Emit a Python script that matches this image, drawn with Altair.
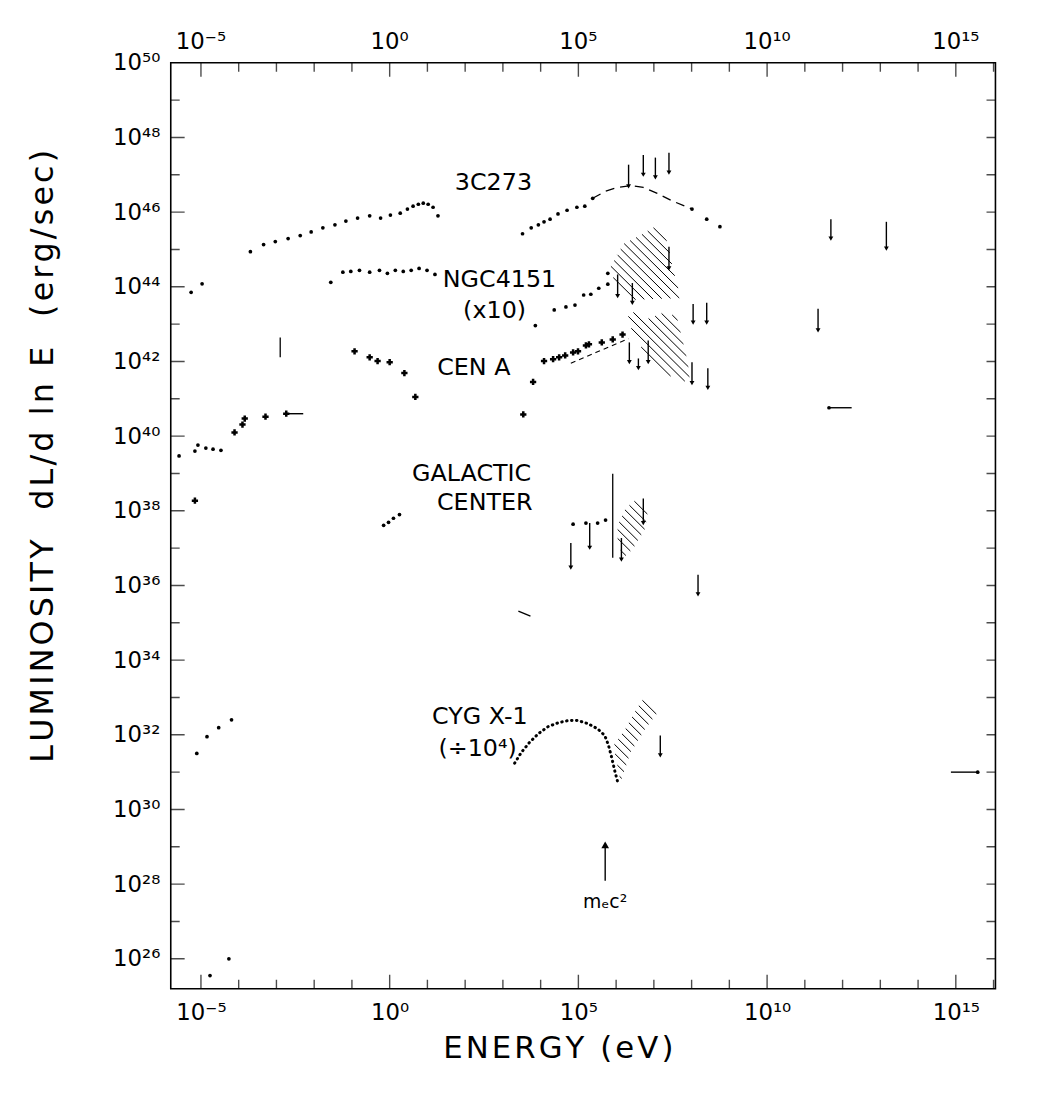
import altair as alt
import pandas as pd

# ---------------- axis ranges (log10 units) ----------------
X_MIN, X_MAX = -5.8, 16.05      # log10 E (eV)
Y_MIN, Y_MAX = 25.2, 50.0       # log10 dL/dlnE (erg/s)
FONT = "DejaVu Sans"

X_LABELS = [-5, 0, 5, 10, 15]
Y_LABELS = [26, 28, 30, 32, 34, 36, 38, 40, 42, 44, 46, 48, 50]
X_TICKS = list(range(-5, 17))
Y_TICKS = list(range(26, 50))

# ---------------- 3C273 ----------------
q_radio_x = [-5.26, -4.97]
q_radio_y = [43.85, 44.08]
q_ir_x = [-3.69, -3.34, -3.03, -2.69, -2.37, -2.08, -1.77, -1.45, -1.16, -0.85, -0.53,
          -0.24, 0.02, 0.28, 0.47, 0.62, 0.76, 0.89, 1.02, 1.15, 1.28]
q_ir_y = [44.94, 45.13, 45.21, 45.29, 45.37, 45.47, 45.58, 45.66, 45.76, 45.84, 45.90,
          45.84, 45.92, 45.97, 46.08, 46.16, 46.21, 46.24, 46.21, 46.13, 45.90]
q_xr_x = [3.52, 3.75, 3.94, 4.09, 4.25, 4.46, 4.70, 4.96, 5.17, 5.38]
q_xr_y = [45.42, 45.58, 45.66, 45.74, 45.81, 45.95, 46.05, 46.13, 46.16, 46.37]
q_model_x = [5.38, 5.72, 6.04, 6.38, 6.72, 7.09, 7.51, 8.01]
q_model_y = [46.37, 46.56, 46.66, 46.71, 46.66, 46.50, 46.29, 46.08]
q_gam_x = [8.01, 8.40, 8.75]
q_gam_y = [46.08, 45.81, 45.61]
q_ul_x = [6.33, 6.72, 7.04, 7.40, 11.69, 13.16]
q_ul_top = [47.27, 47.53, 47.46, 47.59, 45.81, 45.74]
q_ul_bot = [46.69, 47.00, 46.93, 47.06, 45.29, 45.02]

# ---------------- NGC4151 (x10) ----------------
n_ir_x = [-1.56, -1.24, -1.03, -0.80, -0.53, -0.27, -0.06, 0.15, 0.36, 0.57, 0.78, 0.99, 1.20]
n_ir_y = [44.12, 44.39, 44.41, 44.44, 44.39, 44.44, 44.36, 44.44, 44.41, 44.44, 44.49, 44.44, 44.33]
n_xr_x = [3.86, 4.36, 4.67, 4.91, 5.14, 5.33, 5.54, 5.78, 5.78]
n_xr_y = [42.96, 43.38, 43.46, 43.51, 43.78, 43.80, 43.96, 44.07, 44.36]
n_poly_x = [5.83, 6.20, 6.64, 7.04, 7.25, 7.38, 7.46, 7.59, 7.72, 6.91, 6.46, 6.14, 5.93]
n_poly_y = [44.49, 45.15, 45.38, 45.61, 45.45, 45.13, 44.68, 44.15, 43.70, 43.67, 43.65, 43.91, 44.23]
n_ul_x = [6.04, 6.43, 7.40, 8.04, 8.40, 11.35]
n_ul_top = [44.33, 44.10, 45.07, 43.54, 43.57, 43.41]
n_ul_bot = [43.75, 43.57, 44.49, 43.04, 43.04, 42.83]

# ---------------- CEN A ----------------
a_radio_x = [-5.58, -5.16, -5.08, -4.87, -4.68, -4.47]
a_radio_y = [39.47, 39.60, 39.76, 39.68, 39.65, 39.62]
a_cross_x = [-5.16, -4.11, -3.90, -3.84, -3.29, -2.74,
             -0.93, -0.53, -0.32, 0.00, 0.39, 0.68,
             3.54, 3.80, 4.09, 4.33, 4.49, 4.65, 4.86, 4.99, 5.20, 5.28, 5.62, 5.91, 6.17]
a_cross_y = [38.27, 40.10, 40.31, 40.47, 40.52, 40.60,
             42.27, 42.11, 42.01, 41.98, 41.69, 41.05,
             40.58, 41.45, 42.01, 42.06, 42.11, 42.16, 42.24, 42.27, 42.43, 42.46, 42.51, 42.59, 42.72]
a_dash_x = [4.80, 5.46, 6.33]
a_dash_y = [41.95, 42.24, 42.61]
a_poly_x = [6.30, 6.64, 6.83, 7.12, 7.35, 7.62, 7.75, 7.90, 7.96, 7.35, 6.85, 6.43]
a_poly_y = [43.30, 43.33, 43.14, 43.25, 43.35, 43.14, 42.61, 41.98, 41.42, 41.64, 42.08, 42.77]
a_ul_x = [6.35, 6.85, 6.59, 8.01, 8.43]
a_ul_top = [42.51, 42.56, 42.08, 41.98, 41.82]
a_ul_bot = [41.98, 41.98, 41.82, 41.42, 41.29]

# ---------------- Galactic Center ----------------
g_ir_x = [-0.16, -0.03, 0.10, 0.26]
g_ir_y = [37.61, 37.69, 37.80, 37.90]
g_xr_x = [4.86, 5.20, 5.51, 5.72]
g_xr_y = [37.64, 37.67, 37.67, 37.75]
g_poly_x = [6.04, 6.25, 6.51, 6.72, 6.83, 6.77, 6.46, 6.20, 6.04]
g_poly_y = [37.61, 38.06, 38.28, 38.20, 37.93, 37.53, 37.01, 36.74, 37.14]
g_ul_x = [4.80, 5.30, 6.14, 6.72, 8.17]
g_ul_top = [37.14, 37.67, 37.27, 38.33, 36.29]
g_ul_bot = [36.48, 37.01, 36.69, 37.67, 35.76]

# ---------------- CYG X-1 (/10^4) ----------------
c_radio_x = [-5.11, -4.84, -4.53, -4.19]
c_radio_y = [31.50, 31.95, 32.19, 32.40]
c_hump_x = [3.31, 3.49, 3.70, 3.94, 4.20, 4.46, 4.72, 4.99, 5.25, 5.51, 5.70, 5.80, 5.88, 5.96, 6.04]
c_hump_y = [31.24, 31.53, 31.79, 32.03, 32.22, 32.32, 32.38, 32.38, 32.30, 32.16, 31.98, 31.71, 31.40, 31.05, 30.74]
c_poly_x = [5.93, 6.25, 6.51, 6.72, 6.93, 7.09, 6.77, 6.38, 6.12]
c_poly_y = [31.71, 32.16, 32.64, 32.96, 32.90, 32.59, 32.16, 31.53, 30.74]
c_ul_x = [7.17]
c_ul_top = [31.98]
c_ul_bot = [31.45]

# other isolated points / bars
misc_dot_x = [-4.76, -4.26]
misc_dot_y = [25.55, 26.00]
errbar_x = [-2.90]
errbar_top = [42.64]
errbar_bot = [42.11]
vline_x = [5.91]
vline_top = [38.99]
vline_bot = [36.74]
hbar_x = [11.64, 14.87, 3.41, -2.74]
hbar_x2 = [12.24, 15.58, 3.73, -2.29]
hbar_y = [40.76, 31.00, 35.31, 40.60]
hbar_y2 = [40.76, 31.00, 35.18, 40.60]
hbar_pt_x = [11.64, 15.58]
hbar_pt_y = [40.76, 31.00]

MEC2 = 5.71
mec_arrow_y = [28.09, 29.05]

labels_txt = ["3C273", "NGC4151", "(x10)", "CEN A", "GALACTIC", "CENTER", "CYG X-1", "(\u00f710\u2074)"]
labels_x = [2.75, 2.91, 2.78, 2.23, 2.17, 2.52, 2.39, 2.33]
labels_y = [46.77, 44.17, 43.35, 41.82, 38.99, 38.20, 32.48, 31.63]

# ---------------- helpers ----------------
SUP = str.maketrans("-0123456789", "\u207b\u2070\u00b9\u00b2\u00b3\u2074\u2075\u2076\u2077\u2078\u2079")


def sup_label(v):
    return "10" + str(v).translate(SUP)


def label_expr(vals):
    expr = "''"
    for v in reversed(vals):
        expr = f"datum.value == {v} ? '{sup_label(v)}' : " + expr
    return expr


def spaced(s):
    # hair spaces between letters, imitating the wide hand lettering
    return "\u200a".join(s)


xscale = alt.Scale(domain=[X_MIN, X_MAX], nice=False, zero=False)
yscale = alt.Scale(domain=[Y_MIN, Y_MAX], nice=False, zero=False)
xaxis = alt.Axis(values=X_LABELS, labelExpr=label_expr(X_LABELS), ticks=False, domain=False,
                 grid=False, labelFont=FONT, labelFontSize=23, labelPadding=13, labelFlush=False,
                 labelOverlap=False, labelColor="black", title=spaced("ENERGY (eV)"), titleFont=FONT,
                 titleFontSize=31, titleFontWeight="normal", titleColor="black",
                 titleX=390, titleY=60, titleBaseline="middle")
yaxis = alt.Axis(values=Y_LABELS, labelExpr=label_expr(Y_LABELS), ticks=False, domain=False,
                 grid=False, labelFont=FONT, labelFontSize=23, labelPadding=11, labelFlush=False,
                 labelOverlap=False, labelColor="black", labelBaseline="middle",
                 title=spaced("LUMINOSITY  dL/d ln E  (erg/sec)"), titleFont=FONT, titleFontSize=32,
                 titleFontWeight="normal", titleColor="black", titleX=-129, titleY=396,
                 titleBaseline="middle", titleAngle=270)


def X(f="x"):
    return alt.X(f, type="quantitative", scale=xscale, axis=xaxis)


def Y(f="y"):
    return alt.Y(f, type="quantitative", scale=yscale, axis=yaxis)


def XD(v):
    return alt.XDatum(v, type="quantitative", scale=xscale, axis=xaxis)


def YD(v):
    return alt.YDatum(v, type="quantitative", scale=yscale, axis=yaxis)


def df_xy(xs, ys):
    return pd.DataFrame({"x": xs, "y": ys})


def hatch(px, py, k=1.0, step=0.24):
    """hatch segments (style) clipped to polygon given by its vertices"""
    n = len(px)
    cv = [py[i] + k * px[i] for i in range(n)]
    segs = []
    c = min(cv) + step / 2
    while c < max(cv):
        xs = []
        for i in range(n):
            x1, y1 = px[i], py[i]
            x2, y2 = px[(i + 1) % n], py[(i + 1) % n]
            f1 = y1 + k * x1 - c
            f2 = y2 + k * x2 - c
            if (f1 > 0) != (f2 > 0):
                t = f1 / (f1 - f2)
                xs.append(x1 + t * (x2 - x1))
        xs.sort()
        for j in range(0, len(xs) - 1, 2):
            segs.append({"x": xs[j], "y": c - k * xs[j], "x2": xs[j + 1], "y2": c - k * xs[j + 1]})
        c += step
    return segs


# ---------------- tables ----------------
dots = pd.concat([
    df_xy(q_radio_x, q_radio_y), df_xy(q_ir_x, q_ir_y), df_xy(q_xr_x, q_xr_y), df_xy(q_gam_x, q_gam_y),
    df_xy(n_ir_x, n_ir_y), df_xy(n_xr_x, n_xr_y),
    df_xy(a_radio_x, a_radio_y),
    df_xy(g_ir_x, g_ir_y), df_xy(g_xr_x, g_xr_y),
    df_xy(c_radio_x, c_radio_y),
    df_xy(misc_dot_x, misc_dot_y), df_xy(hbar_pt_x, hbar_pt_y),
], ignore_index=True)
crosses = df_xy(a_cross_x, a_cross_y)

ul = pd.DataFrame({
    "x": q_ul_x + n_ul_x + a_ul_x + g_ul_x + c_ul_x,
    "y": q_ul_top + n_ul_top + a_ul_top + g_ul_top + c_ul_top,
    "y2": q_ul_bot + n_ul_bot + a_ul_bot + g_ul_bot + c_ul_bot,
})
bars = pd.DataFrame({"x": errbar_x + vline_x, "y": errbar_top + vline_top, "y2": errbar_bot + vline_bot})
hbars = pd.DataFrame({"x": hbar_x, "x2": hbar_x2, "y": hbar_y, "y2": hbar_y2})

hatch_rows = []
for pxs, pys in [(n_poly_x, n_poly_y), (a_poly_x, a_poly_y), (g_poly_x, g_poly_y), (c_poly_x, c_poly_y)]:
    hatch_rows += hatch(pxs, pys)
hatch_df = pd.DataFrame(hatch_rows)

labels_df = pd.DataFrame({"x": labels_x, "y": labels_y, "t": labels_txt})
toplab = pd.DataFrame({"x": X_LABELS, "t": [sup_label(v) for v in X_LABELS]})

xt = pd.DataFrame({"x": X_TICKS, "major": [v % 5 == 0 for v in X_TICKS]})
yt = pd.DataFrame({"y": Y_TICKS, "major": [v % 2 == 0 for v in Y_TICKS]})

mec = pd.DataFrame({"x": [MEC2], "y": [mec_arrow_y[0]], "y2": [mec_arrow_y[1]]})

# ---------------- layers ----------------
layers = []

# frame ticks (inward, clipped to plot area)
for major, ln in [(True, 14), (False, 9)]:
    xsub = xt[xt.major == major]
    ysub = yt[yt.major == major]
    layers.append(alt.Chart(xsub).mark_tick(orient="vertical", size=2 * ln, thickness=1.4, color="black", clip=True)
                  .encode(x=X("x"), y=YD(Y_MIN)))
    layers.append(alt.Chart(xsub).mark_tick(orient="vertical", size=2 * ln, thickness=1.4, color="black", clip=True)
                  .encode(x=X("x"), y=YD(Y_MAX)))
    layers.append(alt.Chart(ysub).mark_tick(orient="horizontal", size=2 * ln, thickness=1.4, color="black", clip=True)
                  .encode(y=Y("y"), x=XD(X_MIN)))
    layers.append(alt.Chart(ysub).mark_tick(orient="horizontal", size=2 * 9, thickness=1.4, color="black", clip=True)
                  .encode(y=Y("y"), x=XD(X_MAX)))

# top axis labels
layers.append(alt.Chart(toplab).mark_text(font=FONT, fontSize=23, baseline="bottom", dy=-9, color="black")
              .encode(x=X("x"), y=YD(Y_MAX), text="t:N"))

# hatched regions
layers.append(alt.Chart(hatch_df).mark_rule(color="black", strokeWidth=1.0, clip=True)
              .encode(x=X("x"), y=Y("y"), x2="x2:Q", y2="y2:Q"))

# curves
layers.append(alt.Chart(df_xy(q_model_x, q_model_y)).mark_line(color="black", strokeWidth=1.3, strokeDash=[9, 6])
              .encode(x=X("x"), y=Y("y")))
layers.append(alt.Chart(df_xy(a_dash_x, a_dash_y)).mark_line(color="black", strokeWidth=1.1, strokeDash=[5, 4])
              .encode(x=X("x"), y=Y("y")))
layers.append(alt.Chart(df_xy(c_hump_x, c_hump_y)).mark_line(color="black", strokeWidth=3.0, strokeDash=[0.5, 4.5],
                                                            strokeCap="round")
              .encode(x=X("x"), y=Y("y")))

# upper limit arrows
layers.append(alt.Chart(ul).mark_rule(color="black", strokeWidth=1.4).encode(x=X("x"), y=Y("y"), y2="y2:Q"))
layers.append(alt.Chart(ul).mark_point(shape="triangle-down", filled=True, size=24, color="black", opacity=1)
              .encode(x=X("x"), y=Y("y2")))
layers.append(alt.Chart(bars).mark_rule(color="black", strokeWidth=1.3).encode(x=X("x"), y=Y("y"), y2="y2:Q"))
layers.append(alt.Chart(hbars).mark_rule(color="black", strokeWidth=1.4)
              .encode(x=X("x"), x2="x2:Q", y=Y("y"), y2="y2:Q"))

# data points
layers.append(alt.Chart(dots).mark_point(shape="circle", filled=True, size=14, color="black", opacity=1)
              .encode(x=X("x"), y=Y("y")))
layers.append(alt.Chart(crosses).mark_point(shape="cross", filled=True, size=40, color="black", opacity=1)
              .encode(x=X("x"), y=Y("y")))

# m_e c^2 marker
layers.append(alt.Chart(mec).mark_rule(color="black", strokeWidth=1.4).encode(x=X("x"), y=Y("y"), y2="y2:Q"))
layers.append(alt.Chart(mec).mark_point(shape="triangle-up", filled=True, size=60, color="black", opacity=1)
              .encode(x=X("x"), y=Y("y2")))
layers.append(alt.Chart(mec).mark_text(text="m\u2091c\u00b2", font=FONT, fontSize=19, baseline="top", dy=12,
                                       color="black")
              .encode(x=X("x"), y=Y("y")))

# source labels
layers.append(alt.Chart(labels_df).mark_text(font=FONT, fontSize=24, color="black")
              .encode(x=X("x"), y=Y("y"), text="t:N"))

chart = alt.layer(*layers).properties(
    width=831, height=933,
    autosize=alt.AutoSizeParams(type="none"),
    padding={"left": 164, "top": 51, "right": 59, "bottom": 109},
    background="white",
).configure_view(stroke="black", strokeWidth=1.6)

chart.save("out.html", embed_options={"renderer": "svg", "actions": False})
